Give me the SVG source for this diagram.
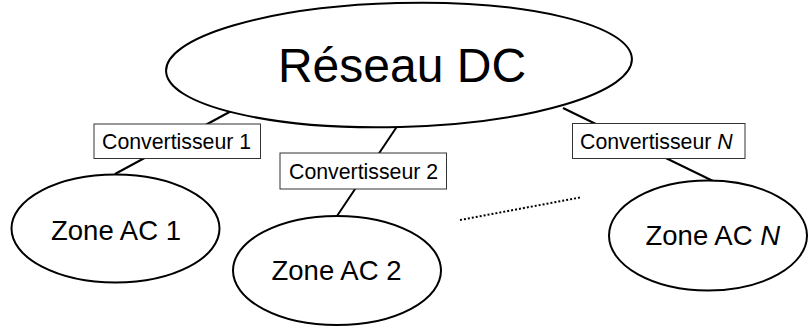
<svg xmlns="http://www.w3.org/2000/svg" width="809" height="329" viewBox="0 0 809 329">
<style>
.ell{fill:#fff;stroke:#000;stroke-width:2}
.box{fill:#fff;stroke:#333;stroke-width:1}
.ln{stroke:#000;stroke-width:2;fill:none}
.dot{stroke:#000;stroke-width:2;fill:none;stroke-dasharray:2 2}
text{font-family:"Liberation Sans",Arial,sans-serif;fill:#000}
.big{font-size:48px}
.mid{font-size:27.5px}
.sm{font-size:21.3px}
</style>
<rect width="809" height="329" fill="#fff"/>
<g id="connectors">
<line class="ln" x1="235" y1="109" x2="115" y2="174"/>
<line class="ln" x1="398" y1="125" x2="337" y2="216"/>
<line class="ln" x1="563" y1="108" x2="713" y2="181"/>
<line class="dot" x1="460" y1="220" x2="580" y2="197.5"/>
</g>
<g id="reseau-dc">
<ellipse class="ell" cx="399" cy="65" rx="233" ry="62" transform="rotate(-1.5 399 65)"/>
<text class="big" x="402" y="82" text-anchor="middle">Réseau DC</text>
</g>
<g id="conv1">
<rect class="box" x="94" y="124" width="166.5" height="34.5"/>
<text class="sm" x="102" y="149">Convertisseur 1</text>
</g>
<g id="conv2">
<rect class="box" x="280" y="153" width="166.5" height="36"/>
<text class="sm" x="289" y="178.5">Convertisseur 2</text>
</g>
<g id="convN">
<rect class="box" x="572.5" y="123.5" width="172.5" height="35"/>
<text class="sm" x="580" y="148.5">Convertisseur <tspan font-style="italic">N</tspan></text>
</g>
<g id="zone1">
<ellipse class="ell" cx="115.5" cy="228.5" rx="104" ry="54"/>
<text class="mid" x="116" y="240" text-anchor="middle">Zone AC 1</text>
</g>
<g id="zone2">
<ellipse class="ell" cx="337" cy="270.5" rx="104" ry="54.5"/>
<text class="mid" x="336.5" y="280" text-anchor="middle">Zone AC 2</text>
</g>
<g id="zoneN">
<ellipse class="ell" cx="708" cy="235.5" rx="99" ry="55"/>
<text class="mid" x="645.5" y="245">Zone AC <tspan font-style="italic">N</tspan></text>
</g>
</svg>
